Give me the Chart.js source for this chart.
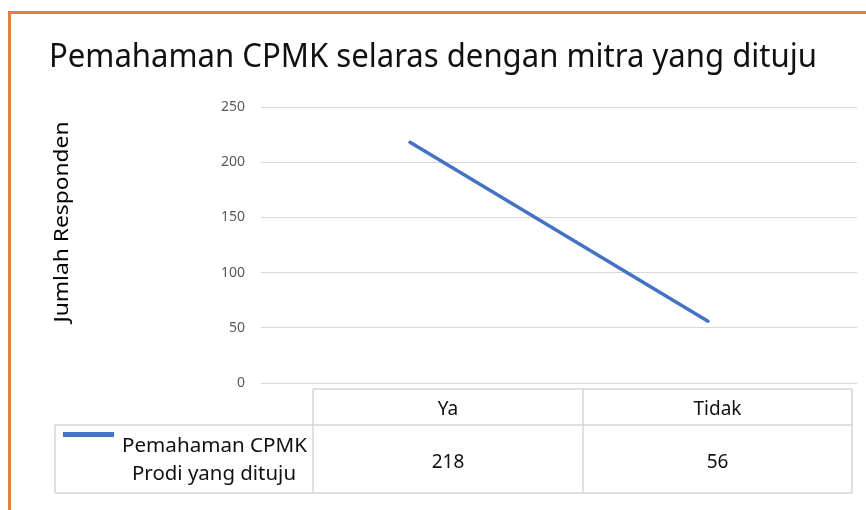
<!DOCTYPE html>
<html>
<head>
<meta charset="utf-8">
<script src="https://cdn.jsdelivr.net/npm/chart.js@4.4.0/dist/chart.umd.min.js"></script>
<style>
  html, body { margin: 0; padding: 0; background: #fff; overflow: hidden; }
  #frame {
    position: absolute; left: 8px; top: 11px; width: 900px; height: 600px;
    border-top: 3px solid #ed7d31; border-left: 3px solid #ed7d31;
  }
  #wrap { position: absolute; left: 0; top: 0; width: 866px; height: 510px; }
</style>
</head>
<body>
<div id="frame"></div>
<div id="wrap"><canvas id="chart" width="866" height="510"></canvas></div>
<script>
const chartTitle = "Pemahaman CPMK selaras dengan mitra yang dituju";
const yAxisTitle = "Jumlah Responden";
const categories = ["Ya", "Tidak"];
const seriesLabel = ["Pemahaman CPMK", "Prodi yang dituju"];
const seriesValues = [218, 56];
const yTicks = [0, 50, 100, 150, 200, 250];

const lineColor = "#4472c4";
const gridColor = "#d9d9d9";
const FONT = "'Noto Sans', sans-serif";

// draws text stretched to a given width, so the narrow Office font is matched
function fitText(ctx, text, x, y, size, width, align) {
  ctx.font = size + "px " + FONT;
  const w = ctx.measureText(text).width;
  ctx.save();
  ctx.translate(x, y);
  ctx.scale(width / w, 1);
  ctx.textAlign = align;
  ctx.textBaseline = "alphabetic";
  ctx.fillText(text, 0, 0);
  ctx.restore();
}

const extras = {
  id: "extras",
  afterDraw(chart) {
    const ctx = chart.ctx;
    const meta = chart.getDatasetMeta(0);
    ctx.save();

    // title
    ctx.fillStyle = "#111";
    fitText(ctx, chartTitle, 49, 67, 32, 768, "left");

    // y axis title
    ctx.save();
    ctx.translate(68, 222);
    ctx.rotate(-Math.PI / 2);
    ctx.fillStyle = "#000";
    fitText(ctx, yAxisTitle, 0, 0, 20, 201, "center");
    ctx.restore();

    // data table
    const cols = [313, 583, 852];
    const tLeft = 55, hTop = 389, hBot = 425, tBot = 493;
    ctx.strokeStyle = "#d6d6d6";
    ctx.lineWidth = 1.5;
    ctx.beginPath();
    ctx.moveTo(cols[0], hTop); ctx.lineTo(cols[2], hTop);
    ctx.moveTo(tLeft, hBot); ctx.lineTo(cols[2], hBot);
    ctx.moveTo(tLeft, tBot); ctx.lineTo(cols[2], tBot);
    ctx.moveTo(tLeft, hBot); ctx.lineTo(tLeft, tBot);
    cols.forEach((c) => { ctx.moveTo(c, hTop); ctx.lineTo(c, tBot); });
    ctx.stroke();

    ctx.fillStyle = "#111";
    ctx.font = "19px " + FONT;
    ctx.textAlign = "center";
    ctx.textBaseline = "alphabetic";
    categories.forEach((cat, i) => {
      const cx = (cols[i] + cols[i + 1]) / 2;
      ctx.fillText(cat, cx, 415);
      ctx.fillText(String(chart.data.datasets[0].data[i]), cx, 468);
    });

    // legend key inside the table
    ctx.strokeStyle = meta.dataset.options.borderColor;
    ctx.lineWidth = 5;
    ctx.lineCap = "butt";
    ctx.beginPath();
    ctx.moveTo(63, 434.5); ctx.lineTo(114, 434.5);
    ctx.stroke();
    fitText(ctx, seriesLabel[0], 214.5, 452, 19, 185, "center");
    fitText(ctx, seriesLabel[1], 214, 480, 19, 164, "center");

    ctx.restore();
  },
};

new Chart("chart", {
  type: "line",
  data: {
    labels: categories,
    datasets: [
      {
        label: seriesLabel.join(" "),
        data: seriesValues,
        borderColor: lineColor,
        borderWidth: 3.5,
        borderCapStyle: "round",
        pointRadius: 0,
        tension: 0,
        fill: false,
      },
    ],
  },
  options: {
    responsive: false,
    animation: false,
    devicePixelRatio: 1,
    layout: {
      padding: { left: 40, top: 107, right: 9, bottom: 127 },
    },
    plugins: {
      legend: { display: false },
      title: { display: false },
      tooltip: { enabled: false },
    },
    scales: {
      x: {
        type: "category",
        display: false,
        offset: true,
      },
      y: {
        min: yTicks[0],
        max: yTicks[yTicks.length - 1],
        afterBuildTicks: (scale) => {
          scale.ticks = yTicks.map((v) => ({ value: v }));
        },
        afterFit: (scale) => {
          scale.width = 221;
        },
        border: { display: false },
        grid: {
          color: gridColor,
          lineWidth: 1,
          drawTicks: false,
        },
        ticks: {
          padding: 16,
          color: "#595959",
          font: { family: FONT, size: 14 },
        },
      },
    },
  },
  plugins: [extras],
});
</script>
</body>
</html>
